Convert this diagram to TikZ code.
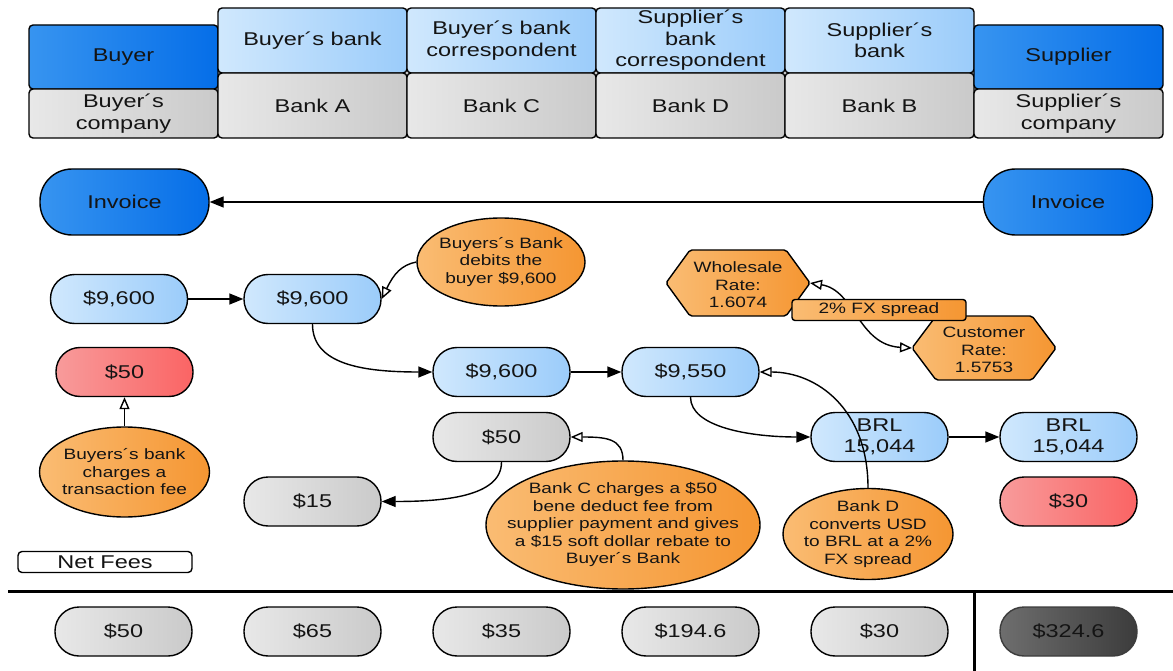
\documentclass[tikz,border=0pt]{standalone}
\usepackage{fontspec}
\setmainfont[FakeStretch=1.27]{Liberation Sans}
\usetikzlibrary{shapes.geometric,arrows.meta}
\definecolor{dblueL}{RGB}{55,148,240}
\definecolor{dblueR}{RGB}{5,110,232}
\definecolor{lblueL}{RGB}{208,232,253}
\definecolor{lblueR}{RGB}{155,204,250}
\definecolor{grayL}{RGB}{232,232,232}
\definecolor{grayR}{RGB}{202,202,202}
\definecolor{orL}{RGB}{250,188,115}
\definecolor{orR}{RGB}{245,150,50}
\definecolor{redL}{RGB}{248,155,155}
\definecolor{redR}{RGB}{250,100,100}
\definecolor{dkL}{RGB}{110,110,110}
\definecolor{dkR}{RGB}{60,60,60}
\definecolor{txt}{RGB}{20,20,20}
\begin{document}
\begin{tikzpicture}[x=1pt,y=-1pt,
  base/.style={draw=black, line width=1.4pt, text=txt, inner sep=0pt, align=center,
    font=\fontsize{18.5}{21.5}\selectfont},
  hdr/.style={base, rectangle, rounded corners=4pt, minimum width=189pt},
  dblue/.style={left color=dblueL, right color=dblueR},
  lblue/.style={left color=lblueL, right color=lblueR},
  gry/.style={left color=grayL, right color=grayR},
  rd/.style={left color=redL, right color=redR},
  dk/.style={left color=dkL, right color=dkR},
  pill/.style={base, rectangle, rounded corners=24pt, minimum width=137pt, minimum height=49pt},
  bubble/.style={draw=black, line width=1.4pt, ellipse, inner sep=0pt, left color=orL, right color=orR},
  smalltext/.style={text=txt, align=center, inner sep=0pt, font=\fontsize{15}{17.5}\selectfont},
  hexa/.style={draw=black, line width=1.4pt, left color=orL, right color=orR, rounded corners=2pt},
  flow/.style={line width=1.4pt, -{Triangle[length=14pt,width=11pt]}},
  note/.style={line width=1.4pt, -{Triangle[length=12pt,width=10pt,fill=white]}},
  twonote/.style={line width=1.4pt, {Triangle[length=12pt,width=10pt,fill=white]}-{Triangle[length=12pt,width=10pt,fill=white]}},
  rule/.style={line width=3pt}
]
\useasboundingbox (0,0) rectangle (1173,671);
\fill[white] (0,0) rectangle (1173,671);

% header
\node[hdr,dblue,minimum height=64pt] (buyer) at (123.5,57) {Buyer};
\node[hdr,gry,minimum height=49pt] (buyerco) at (123.5,113.5) {Buyer´s\\company};
\node[hdr,lblue,minimum height=65pt] (bbank) at (312.5,40.5) {Buyer´s bank};
\node[hdr,gry,minimum height=65pt] (banka) at (312.5,105.5) {Bank A};
\node[hdr,lblue,minimum height=65pt] (bcorr) at (501.5,40.5) {Buyer´s bank\\correspondent};
\node[hdr,gry,minimum height=65pt] (bankc) at (501.5,105.5) {Bank C};
\node[hdr,lblue,minimum height=65pt] (scorr) at (690.5,40.5) {Supplier´s\\bank\\correspondent};
\node[hdr,gry,minimum height=65pt] (bankd) at (690.5,105.5) {Bank D};
\node[hdr,lblue,minimum height=65pt] (sbank) at (879.5,40.5) {Supplier´s\\bank};
\node[hdr,gry,minimum height=65pt] (bankb) at (879.5,105.5) {Bank B};
\node[hdr,dblue,minimum height=64pt] (supplier) at (1068.5,57) {Supplier};
\node[hdr,gry,minimum height=49pt] (supco) at (1068.5,113.5) {Supplier´s\\company};

% invoices
\node[base,dblue,rectangle,rounded corners=32pt,minimum width=169pt,minimum height=66pt] (invL) at (124.5,202) {Invoice};
\node[base,dblue,rectangle,rounded corners=32pt,minimum width=169pt,minimum height=66pt] (invR) at (1068,202) {Invoice};

% flow nodes
\node[pill,lblue] (a1) at (119,299) {\$9,600};
\node[pill,lblue] (a2) at (312.5,299) {\$9,600};
\node[pill,rd] (fee1) at (124.5,372) {\$50};
\node[pill,lblue] (b1) at (501.5,372) {\$9,600};
\node[pill,lblue] (b2) at (690.5,372) {\$9,550};
\node[pill,gry] (c50) at (501.5,437) {\$50};
\node[pill,gry] (c15) at (312.5,501.5) {\$15};
\node[pill,lblue] (brl1) at (879.5,437) {BRL\\15,044};
\node[pill,lblue] (brl2) at (1068.5,437) {BRL\\15,044};
\node[pill,rd] (fee4) at (1068.5,501.5) {\$30};

% bubbles
\node[bubble,minimum width=168pt,minimum height=88pt] (debit) at (501,262) {};
\node[smalltext] (debitT) at (debit) {Buyers´s Bank\\debits the\\buyer \$9,600};
\node[bubble,minimum width=170pt,minimum height=90pt] (charge) at (124.5,472) {};
\node[smalltext] (chargeT) at (charge) {Buyers´s bank\\charges a\\transaction fee};
\node[bubble,minimum width=274pt,minimum height=128pt] (bcnote) at (623,525) {};
\node[smalltext] (bcnoteT) at (bcnote) {Bank C charges a \$50\\bene deduct fee from\\supplier payment and gives\\a \$15 soft dollar rebate to\\Buyer´s Bank};
\node[bubble,minimum width=170pt,minimum height=91pt] (bdnote) at (868,534) {};
\node[smalltext] (bdnoteT) at (bdnote) {Bank D\\converts USD\\to BRL at a 2\%\\FX spread};

% hexagons
\path[hexa] (666,283) -- (690,250) -- (786,250) -- (810,283) -- (786,316) -- (690,316) -- cycle;
\node[smalltext] (ws) at (738,285) {Wholesale\\Rate:\\1.6074};
\coordinate (wsE) at (810,283);
\path[hexa] (912,348) -- (936,316) -- (1032,316) -- (1056,348) -- (1032,380) -- (936,380) -- cycle;
\node[smalltext] (cu) at (984,350) {Customer\\Rate:\\1.5753};
\coordinate (cuW) at (912,348);

% connectors
\draw[flow] (invR.west) -- (invL.east);
\draw[flow] (a1.east) -- (a2.west);
\draw[flow] (a2.south) .. controls +(0,40) and +(-70,0) .. (b1.west);
\draw[flow] (b1.east) -- (b2.west);
\draw[flow] (b2.south) .. controls +(0,30) and +(-60,0) .. (brl1.west);
\draw[flow] (brl1.east) -- (brl2.west);
\draw[flow] (c50.south) .. controls +(0,35) and +(60,0) .. (c15.east);
\draw[note] (charge.north) -- (fee1.south);
\draw[note] (debit.west) .. controls +(-15,3) and +(12,-25) .. (a2.east);
\draw[note] (bcnote.north) .. controls +(0,-22) and +(35,0) .. (c50.east);
\draw[note] (bdnote.north) .. controls +(0,-79) and +(57,0) .. (b2.east);
\draw[twonote] (wsE) .. controls (855,290) and (858,345) .. (cuW);
\node[base,rectangle,rounded corners=3pt,minimum width=174pt,minimum height=21pt,
  left color=orL,right color=orR,font=\fontsize{15}{17.5}\selectfont] (fx) at (879,310) {2\% FX spread};

% net fees
\node[base,rectangle,rounded corners=4pt,minimum width=174pt,minimum height=21pt,fill=white] (net) at (105,562) {Net Fees};

% rules
\coordinate (hl) at (8,591);
\coordinate (hr) at (1173,591);
\coordinate (vt) at (974,591);
\coordinate (vb) at (974,671);
\draw[rule] (hl) -- (hr);
\draw[rule] (vt) -- (vb);

% totals
\node[pill,gry] (t1) at (123.5,631.5) {\$50};
\node[pill,gry] (t2) at (312.5,631.5) {\$65};
\node[pill,gry] (t3) at (501.5,631.5) {\$35};
\node[pill,gry] (t4) at (690.5,631.5) {\$194.6};
\node[pill,gry] (t5) at (879.5,631.5) {\$30};
\node[pill,dk,draw=dkR] (t6) at (1068.5,631.5) {\$324.6};
\end{tikzpicture}
\end{document}
